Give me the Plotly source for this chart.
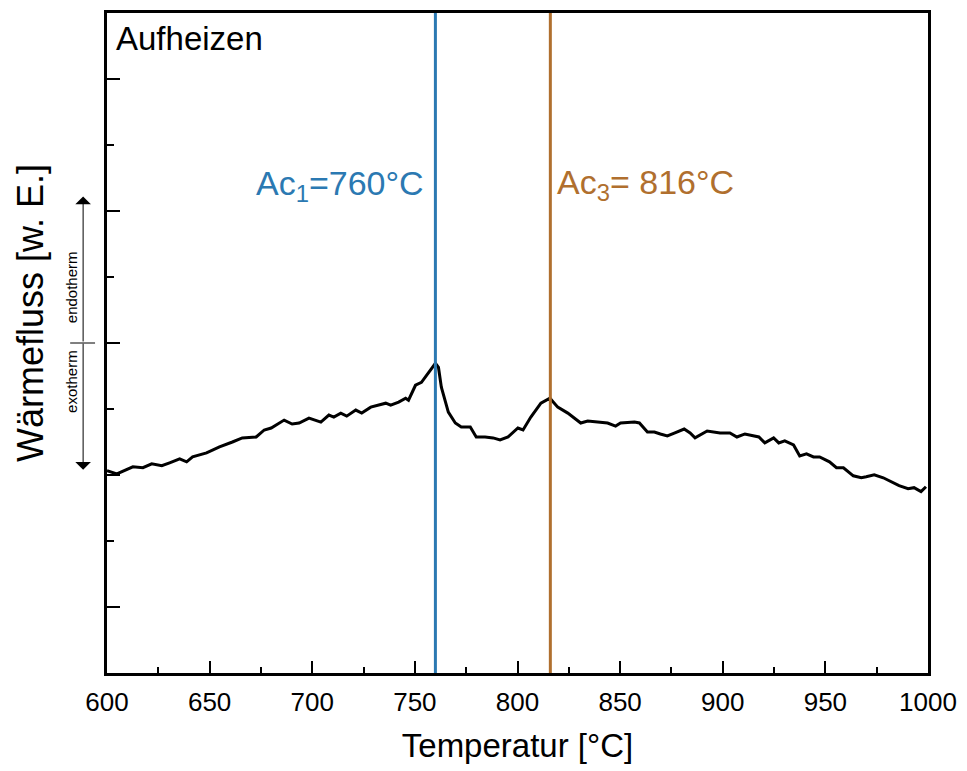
import plotly.graph_objects as go

# Temperature [°C]
temp = [600.0, 604.8, 612.6, 617.5, 621.8, 626.7, 630.5, 635.4, 638.8, 641.7,
        648.5, 651.4, 654.8, 661.1, 665.9, 672.7, 676.6, 680.0, 686.3, 690.2,
        693.6, 698.4, 704.2, 708.1, 710.5, 713.9, 716.8, 721.2, 724.1, 728.5,
        735.8, 738.2, 742.1, 745.5, 746.9, 750.3, 753.2, 760.0, 761.5, 762.9,
        766.3, 769.7, 772.6, 777.0, 779.9, 784.2, 788.1, 791.5, 795.4, 800.2,
        802.7, 806.5, 811.4, 815.8, 819.6, 824.5, 830.8, 834.2, 839.0, 843.9,
        847.8, 850.2, 857.0, 859.4, 863.3, 866.7, 869.6, 873.0, 876.4, 881.2,
        884.1, 886.5, 892.4, 898.7, 903.5, 906.9, 910.8, 917.6, 920.5, 924.8,
        927.3, 930.2, 934.5, 937.5, 940.8, 944.2, 947.2, 952.0, 955.4, 958.8,
        963.6, 967.5, 969.9, 973.8, 978.2, 981.1, 985.9, 990.3, 993.2, 996.6,
        999.0]

# Heat flow [arb. units]
heat_flow = [1.032, 1.009, 1.062, 1.055, 1.085, 1.070, 1.092, 1.122, 1.100, 1.137,
             1.168, 1.190, 1.213, 1.250, 1.281, 1.288, 1.341, 1.356, 1.416, 1.386,
             1.394, 1.431, 1.401, 1.454, 1.439, 1.469, 1.446, 1.492, 1.469, 1.514,
             1.544, 1.529, 1.552, 1.582, 1.567, 1.680, 1.702, 1.846, 1.815, 1.665,
             1.476, 1.394, 1.363, 1.363, 1.288, 1.288, 1.281, 1.266, 1.288, 1.356,
             1.341, 1.439, 1.544, 1.582, 1.514, 1.469, 1.394, 1.409, 1.401, 1.394,
             1.371, 1.394, 1.401, 1.394, 1.326, 1.326, 1.311, 1.296, 1.318, 1.348,
             1.318, 1.281, 1.333, 1.318, 1.318, 1.288, 1.311, 1.288, 1.243, 1.281,
             1.243, 1.258, 1.228, 1.145, 1.160, 1.137, 1.137, 1.100, 1.055, 1.055,
             0.994, 0.979, 0.987, 1.002, 0.979, 0.957, 0.919, 0.896, 0.904, 0.874,
             0.911]

ac1 = 760
ac3 = 816
ac1_label = "Ac<sub>1</sub>=760°C"
ac3_label = "Ac<sub>3</sub>= 816°C"
x_ticks = [600, 650, 700, 750, 800, 850, 900, 950, 1000]

blue = "#2b79b2"
brown = "#b06f2e"
font = "Liberation Sans, Arial, sans-serif"

fig = go.Figure()
fig.add_trace(go.Scatter(x=temp, y=heat_flow, mode="lines",
                         line=dict(color="black", width=3), showlegend=False))

fig.add_shape(type="line", xref="x", yref="paper", x0=ac1, x1=ac1, y0=0, y1=1,
              line=dict(color=blue, width=3))
fig.add_shape(type="line", xref="x", yref="paper", x0=ac3, x1=ac3, y0=0, y1=1,
              line=dict(color=brown, width=3))

fig.add_annotation(x=ac1, y=3.19, xref="x", yref="y", text=ac1_label, showarrow=False,
                   xanchor="right", yanchor="middle", xshift=-9,
                   font=dict(family=font, size=34, color=blue))
fig.add_annotation(x=ac3, y=3.2, xref="x", yref="y", text=ac3_label, showarrow=False,
                   xanchor="left", yanchor="middle", xshift=5,
                   font=dict(family=font, size=34, color=brown))
fig.add_annotation(x=0.008, y=0.962, xref="paper", yref="paper", text="Aufheizen",
                   showarrow=False, xanchor="left", yanchor="middle",
                   font=dict(family=font, size=33, color="black"))

# y axis title as annotation for exact placement
fig.add_annotation(x=(30 - 107) / 825, y=(608 - 312) / 132.75, xref="paper", yref="y",
                   text="Wärmefluss [w. E.]", textangle=-90, showarrow=False,
                   xanchor="center", yanchor="middle",
                   font=dict(family=font, size=36, color="black"))

# endotherm / exotherm arrows
ax_x = (83 - 107) / 825
fig.add_annotation(x=ax_x, y=3.11, xref="paper", yref="y", ax=0, ay=147,
                   text=" ", showarrow=True, arrowhead=1, arrowsize=2.6, arrowwidth=1,
                   arrowcolor="black", font=dict(size=1))
fig.add_annotation(x=ax_x, y=1.04, xref="paper", yref="y", ax=0, ay=-128,
                   text=" ", showarrow=True, arrowhead=1, arrowsize=2.6, arrowwidth=1,
                   arrowcolor="black", font=dict(size=1))
fig.add_shape(type="line", xref="paper", yref="y", x0=(70 - 107) / 825, x1=(95 - 107) / 825,
              y0=2.0, y1=2.0, line=dict(color="black", width=1))
fig.add_annotation(x=(81 - 107) / 825, y=2.42, xref="paper", yref="y", text="endotherm",
                   textangle=-90, showarrow=False, xanchor="right", borderpad=0,
                   font=dict(family=font, size=15, color="black"))
fig.add_annotation(x=(81 - 107) / 825, y=1.71, xref="paper", yref="y", text="exotherm",
                   textangle=-90, showarrow=False, xanchor="right", borderpad=0,
                   font=dict(family=font, size=15, color="black"))

fig.update_xaxes(range=[600, 1000], tickvals=x_ticks, ticktext=[str(v) for v in x_ticks],
                 ticks="inside", ticklen=12, tickwidth=2, tickcolor="black",
                 minor=dict(dtick=25, ticks="inside", ticklen=6, tickwidth=2, tickcolor="black"),
                 showline=True, linewidth=2.5, linecolor="black", mirror=True,
                 showgrid=False, zeroline=False, ticklabelstandoff=4,
                 tickfont=dict(family=font, size=26, color="black"),
                 title=dict(text="Temperatur [°C]", font=dict(family=font, size=33, color="black"),
                            standoff=18))
fig.update_yaxes(range=[-0.5, 4.5], dtick=1, tick0=0, showticklabels=False,
                 ticks="inside", ticklen=13, tickwidth=2, tickcolor="black",
                 minor=dict(dtick=0.5, ticks="inside", ticklen=7, tickwidth=2, tickcolor="black"),
                 showline=True, linewidth=2.5, linecolor="black", mirror=True,
                 showgrid=False, zeroline=False)

fig.update_layout(width=967, height=771, autosize=False,
                  margin=dict(l=107, r=35, t=10, b=98),
                  plot_bgcolor="white", paper_bgcolor="white")

fig.write_html("out.html")
